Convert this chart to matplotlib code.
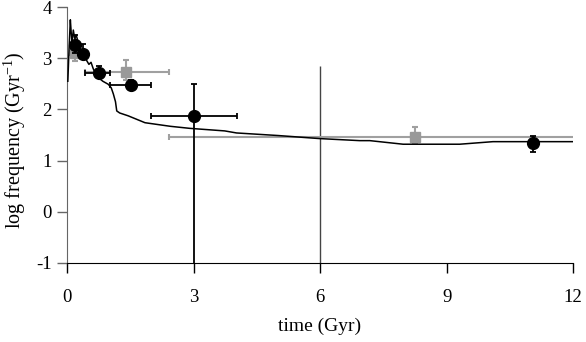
import matplotlib
matplotlib.use("Agg")
import matplotlib.pyplot as plt
import numpy as np

# Simulation curve (time in Gyr, log frequency)
curve_t = [0.02, 0.05, 0.08, 0.10, 0.12, 0.15, 0.18, 0.22, 0.30, 0.40, 0.47, 0.52, 0.57, 0.62,
           0.70, 0.85, 0.98, 1.05, 1.10, 1.15, 1.18, 1.25, 1.45, 1.85, 2.45, 2.91, 3.74,
           4.02, 5.0, 5.99, 6.94, 7.18, 7.97, 9.31, 10.1, 10.89, 12.0]
curve_y = [2.55, 3.20, 3.75, 3.50, 3.30, 3.55, 3.40, 3.45, 3.20, 3.05, 2.95, 2.88, 2.92, 2.80,
           2.65, 2.55, 2.49, 2.42, 2.30, 2.15, 1.97, 1.93, 1.875, 1.74, 1.67, 1.63, 1.58,
           1.54, 1.49, 1.43, 1.39, 1.39, 1.32, 1.32, 1.37, 1.37, 1.37]

# Black circles (observations)
obs_t = [0.2, 0.38, 0.76, 1.51, 3.0, 11.05]
obs_y = [3.26, 3.09, 2.72, 2.48, 1.875, 1.34]
obs_xerr_lo = [0.0, 0.0, 0.33, 0.49, 1.0, 0.0]
obs_xerr_hi = [0.0, 0.0, 0.26, 0.49, 1.02, 0.0]
obs_yerr_lo = [0.15, 0.10, 0.10, 0.10, 3.5, 0.17]
obs_yerr_hi = [0.20, 0.19, 0.13, 0.10, 0.62, 0.15]

# Gray squares (observations)
sq_t = [0.18, 1.41, 8.24]
sq_y = [3.10, 2.73, 1.47]
sq_xerr_lo = [0.10, 0.98, 5.82]
sq_xerr_hi = [0.05, 1.0, 3.95]
sq_yerr_lo = [0.15, 0.15, 0.12]
sq_yerr_hi = [0.12, 0.23, 0.18]

# Vertical range at t = 6 Gyr
range_t = [6.0]
range_lo = [-1.0]
range_hi = [2.85]

plt.rcParams['font.family'] = ['Liberation Serif', 'DejaVu Serif']
plt.rcParams['mathtext.fontset'] = 'custom'
plt.rcParams['mathtext.rm'] = 'Liberation Serif'
plt.rcParams['mathtext.it'] = 'Liberation Serif:italic'
plt.rcParams['axes.unicode_minus'] = False

fig = plt.figure(figsize=(5.86, 3.42), dpi=100)
ax = fig.add_axes([0.1143, 0.231, 0.8637, 0.7485])

ax.vlines(range_t, range_lo, range_hi, color='#444444', lw=1.0, zorder=2)

ax.errorbar(sq_t, sq_y, xerr=[sq_xerr_lo, sq_xerr_hi], yerr=[sq_yerr_lo, sq_yerr_hi],
            fmt='s', color='#999999', ecolor='#a0a0a0', ms=7.5, mec='#999999',
            elinewidth=1.5, capsize=2.5, capthick=1.5, zorder=3)

ax.plot(curve_t, curve_y, color='black', lw=1.1, zorder=4)

ax.errorbar(obs_t, obs_y, xerr=[obs_xerr_lo, obs_xerr_hi], yerr=[obs_yerr_lo, obs_yerr_hi],
            fmt='o', color='black', ecolor='black', ms=8.5,
            elinewidth=1.3, capsize=2.5, capthick=1.3, zorder=5)

ax.set_xlim(0, 12)
ax.set_ylim(-1, 4)
ax.set_xticks([0, 3, 6, 9, 12])
ax.set_yticks([-1, 0, 1, 2, 3, 4])
ax.spines['top'].set_visible(False)
ax.spines['right'].set_visible(False)
ax.spines['left'].set_color('#666666')
ax.spines['bottom'].set_color('black')
ax.tick_params(axis='both', direction='out', length=7, width=1, labelsize=13.5)
ax.tick_params(axis='x', pad=12)
ax.tick_params(axis='y', pad=4, color='#666666')

ax.set_xlabel('time (Gyr)', fontsize=14, labelpad=8)
ax.set_ylabel('log frequency (Gyr$^{\\mathrm{-1}}$)', fontsize=14.5)
ax.yaxis.set_label_coords(-0.077, 0.48)

fig.savefig('out.png', dpi=100)
